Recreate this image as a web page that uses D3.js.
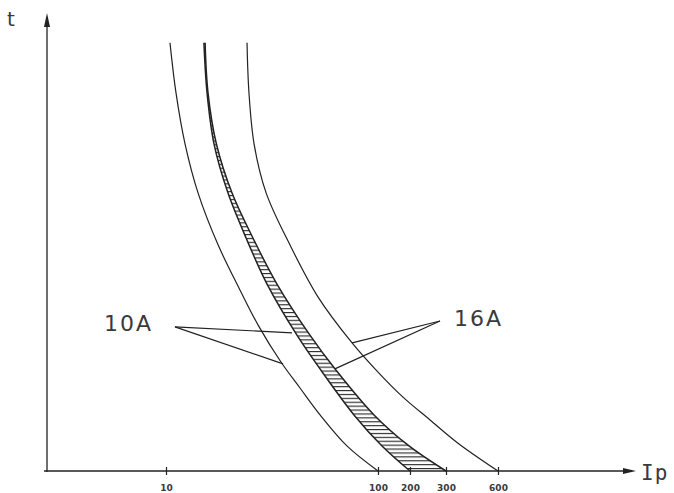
<!DOCTYPE html>
<html>
<head>
<meta charset="utf-8">
<script src="https://cdn.jsdelivr.net/npm/d3@7"></script>
<style>
  html, body { margin: 0; background: #fff; }
  svg { display: block; }
</style>
</head>
<body>
<svg id="chart" width="674" height="493"></svg>
<script>
// Marked currents on the schematic Ip axis
const currentTicks = [10, 100, 200, 300, 600];
const tickLabels = ["10", "100", "200", "300", "600"];

// Time-current curves as [Ip, t] pairs (t in relative units, 0..100)
const curve10AMin = [
  [11.7, 93.9], [14.2, 83.1], [18.1, 71.7], [23.6, 61.0], [32.1, 49.6],
  [41.4, 39.7], [49.1, 32.0], [58.8, 23.9], [66.9, 18.2], [75.4, 12.3],
  [86.8, 5.5], [100, 0]
];
const curve10AMax = [
  [26.1, 93.9], [27.4, 83.1], [30.4, 71.7], [36.3, 61.0], [44.0, 51.1],
  [52.9, 41.0], [65.6, 29.8], [75.8, 22.1], [89.8, 12.3], [112.5, 5.5],
  [200, 0]
];
const curve16AMin = [
  [26.6, 93.9], [27.8, 83.1], [31.4, 71.7], [38.0, 61.0], [46.9, 51.1],
  [57.1, 41.0], [71.1, 29.8], [82.2, 22.1], [98.3, 12.3], [196.9, 5.5],
  [300, 0]
];
const curve16AMax = [
  [44.4, 93.9], [45.2, 83.1], [47.4, 71.7], [52.5, 61.0], [62.6, 49.6],
  [74.5, 38.2], [89.0, 28.1], [100, 21.7], [178.1, 16.2], [255.6, 11.2],
  [369.2, 6.1], [600, 0]
];

// Rating labels with leader lines to their curves
const ratingNames = ["10A", "16A"];
const ratingAnchors = [[13.8, 31.6], [283.3, 32.9]];
const ratingTargets = [
  [[63.5, 30.3], [59.7, 23.5]],
  [[89.0, 28.1], [81.7, 22.4]]
];

const svg = d3.select("#chart");
const W = 674, H = 493;
svg.append("rect").attr("width", W).attr("height", H).attr("fill", "#fff");

const x = d3.scaleLinear().domain(currentTicks).range([166, 378, 410, 446, 498]);
const y = d3.scaleLinear().domain([0, 100]).range([471, 15]);

const ink = "#222";
const textInk = "#3a3a3a";
const axisY = y(0);
const axisX = 47;

// hatch pattern for the overlap band
const defs = svg.append("defs");
const pat = defs.append("pattern")
  .attr("id", "hatch").attr("patternUnits", "userSpaceOnUse")
  .attr("width", 8).attr("height", 3.9);
pat.append("line").attr("x1", 0).attr("x2", 8).attr("y1", 0.6).attr("y2", 0.6)
  .attr("stroke", ink).attr("stroke-width", 1.1);

const line = d3.line()
  .x(d => x(d[0])).y(d => y(d[1]))
  .curve(d3.curveCatmullRom.alpha(0.5));

// overlap band between 10A max and 16A min
const bandPath = line(curve10AMax) + line(curve16AMin.slice().reverse()).replace(/^M/, "L") + "Z";
svg.append("path").attr("d", bandPath).attr("fill", "url(#hatch)").attr("stroke", "none");

// curves
[curve10AMin, curve10AMax, curve16AMin, curve16AMax].forEach((c, i) => {
  svg.append("path").attr("d", line(c))
    .attr("fill", "none").attr("stroke", ink)
    .attr("stroke-width", (i === 1 || i === 2) ? 1.5 : 1.2);
});

// axes with arrowheads
svg.append("line").attr("x1", 44).attr("x2", 630).attr("y1", axisY).attr("y2", axisY)
  .attr("stroke", ink).attr("stroke-width", 1.3);
svg.append("path").attr("d", `M636,${axisY} L623,${axisY - 3} L623,${axisY + 3} Z`).attr("fill", ink);
svg.append("line").attr("x1", axisX).attr("x2", axisX).attr("y1", axisY + 1).attr("y2", 20)
  .attr("stroke", ink).attr("stroke-width", 1.3);
svg.append("path").attr("d", `M${axisX},13 L${axisX - 3},27 L${axisX + 3},27 Z`).attr("fill", ink);

// tick marks and labels on the current axis
const xAxis = d3.axisBottom(x)
  .tickValues(currentTicks)
  .tickFormat((d, i) => tickLabels[i])
  .tickSize(4).tickPadding(10);
const gx = svg.append("g").attr("transform", `translate(0,${axisY})`).call(xAxis);
gx.select(".domain").remove();
gx.selectAll(".tick line").attr("y1", -4).attr("y2", 4).attr("stroke", ink).attr("stroke-width", 1.2);
gx.selectAll(".tick text")
  .attr("font-family", "DejaVu Sans, sans-serif").attr("font-size", 9)
  .attr("font-weight", "bold").attr("fill", textInk);

// axis titles
svg.append("text").attr("x", 7).attr("y", 26).text("t")
  .attr("font-family", "DejaVu Sans, sans-serif").attr("font-size", 20).attr("fill", textInk);
svg.append("text").attr("x", 641).attr("y", 480).text("Ip")
  .attr("font-family", "DejaVu Sans Mono, monospace").attr("font-size", 21)
  .attr("letter-spacing", 1).attr("fill", textInk);

// rating labels and leaders
ratingNames.forEach((name, i) => {
  const a = ratingAnchors[i];
  ratingTargets[i].forEach(tg => {
    svg.append("line")
      .attr("x1", x(a[0])).attr("y1", y(a[1]))
      .attr("x2", x(tg[0])).attr("y2", y(tg[1]))
      .attr("stroke", ink).attr("stroke-width", 1.2);
  });
});
svg.append("text").attr("x", 104).attr("y", 331).text(ratingNames[0])
  .attr("font-family", "DejaVu Sans, sans-serif").attr("font-size", 22)
  .attr("letter-spacing", 2).attr("fill", textInk);
svg.append("text").attr("x", 454).attr("y", 326).text(ratingNames[1])
  .attr("font-family", "DejaVu Sans, sans-serif").attr("font-size", 22)
  .attr("letter-spacing", 2).attr("fill", textInk);
</script>
</body>
</html>
